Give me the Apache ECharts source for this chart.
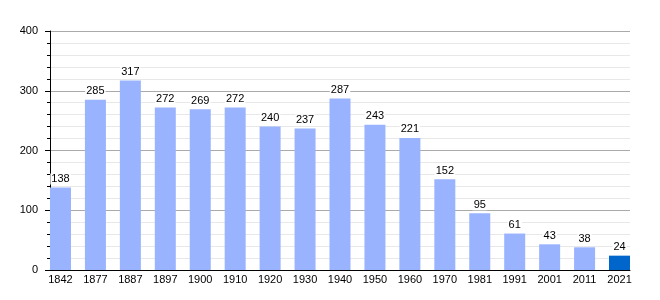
<!DOCTYPE html>
<html><head><meta charset="utf-8">
<script src="https://cdn.jsdelivr.net/npm/echarts@6/dist/echarts.min.js"></script>
<style>html,body{margin:0;padding:0;background:#fff}#c{width:660px;height:300px}</style>
</head><body><div id="c"></div>
<script>
const years = ['1842','1877','1887','1897','1900','1910','1920','1930','1940','1950','1960','1970','1981','1991','2001','2011','2021'];
const population = [138,285,317,272,269,272,240,237,287,243,221,152,95,61,43,38,24];
const yTicks = [0,100,200,300,400];

const idx = years.map((_, i) => i);
const chart = echarts.init(document.getElementById('c'), null, {renderer:'canvas'});
const font = 'Liberation Sans, Arial, sans-serif';
chart.setOption({
  animation:false,
  grid:{left:50,right:30,top:31,bottom:30},
  xAxis:{
    type:'value', min:-0.3, max:years.length-1+0.3,
    axisLine:{show:true,onZero:false,lineStyle:{color:'#000',width:1}},
    axisTick:{show:false},
    splitLine:{show:false},
    axisLabel:{customValues:idx, formatter:v=>years[Math.round(v)], color:'#000', fontSize:11, fontFamily:font, margin:4}
  },
  yAxis:{
    type:'value', min:yTicks[0], max:yTicks[yTicks.length-1], interval:100,
    axisLine:{show:true,onZero:false,lineStyle:{color:'#000',width:1}},
    axisTick:{show:true,inside:false,length:5,lineStyle:{color:'#000'}},
    minorTick:{show:true,splitNumber:5,length:3,lineStyle:{color:'#000'}},
    splitLine:{show:true,lineStyle:{color:'#aaaaaa',width:1}},
    minorSplitLine:{show:true,lineStyle:{color:'#e8e8e8',width:1}},
    axisLabel:{color:'#000',fontSize:11,fontFamily:font,margin:12}
  },
  series:[{
    type:'bar', barWidth:21, z:3,
    data:population.map((v,i)=>({value:[i,v], itemStyle:{color: i===population.length-1 ? '#0066cc' : '#99b3ff'}})),
    label:{show:true,position:'top',distance:3,color:'#000',fontSize:11,fontFamily:font,
      backgroundColor:'#fff',padding:[0,1],formatter:p=>p.value[1]}
  }]
});
</script></body></html>
